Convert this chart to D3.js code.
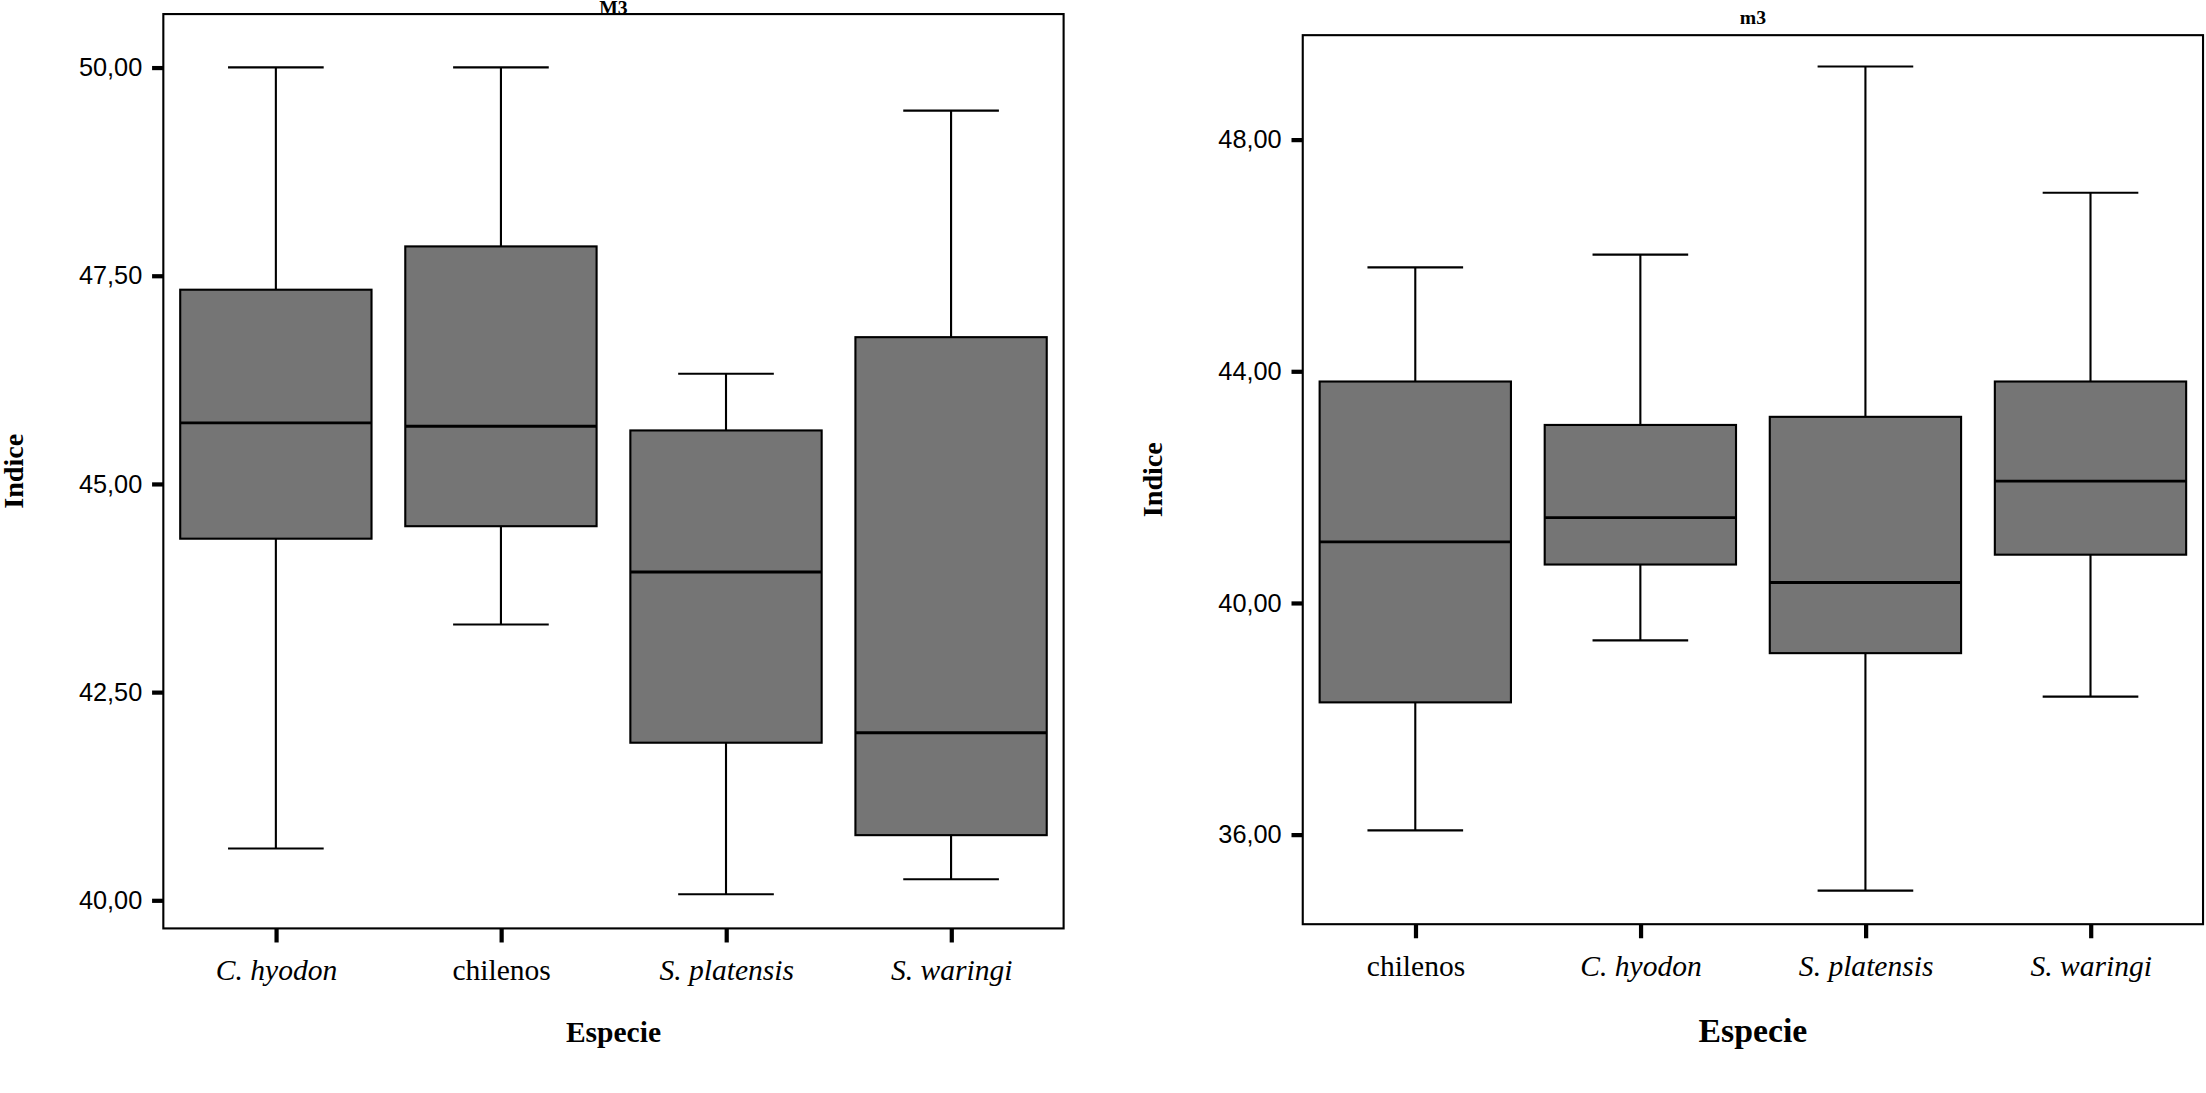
<!DOCTYPE html>
<html><head><meta charset="utf-8">
<script src="https://cdn.jsdelivr.net/npm/d3@7"></script>
<style>body{margin:0;background:#fff}</style>
</head><body>
<svg id="chart" width="2206" height="1093" viewBox="0 0 1568 777"></svg>
<script>
// left panel: M3
var catsM3 = ["C. hyodon", "chilenos", "S. platensis", "S. waringi"];
var minM3 = [40.62, 43.31, 40.07, 40.25];
var q1M3 = [44.34, 44.49, 41.89, 40.78];
var medM3 = [45.73, 45.69, 43.94, 42.01];
var q3M3 = [47.33, 47.85, 45.64, 46.76];
var maxM3 = [50.00, 50.00, 46.32, 49.48];
var ticksM3 = [40, 42.5, 45, 47.5, 50];

// right panel: m3
var catsm3 = ["chilenos", "C. hyodon", "S. platensis", "S. waringi"];
var minm3 = [36.07, 39.35, 35.03, 38.38];
var q1m3 = [38.28, 40.66, 39.13, 40.83];
var medm3 = [41.05, 41.47, 40.35, 42.10];
var q3m3 = [43.82, 43.07, 43.21, 43.82];
var maxm3 = [45.79, 46.01, 49.26, 47.08];
var ticksm3 = [36, 40, 44, 48];

var svg = d3.select("#chart");

function panel(o){
    var g = svg.append("g");
    var y = d3.scaleLinear().domain(o.ydom).range([o.y1, o.y0]);
    var x = d3.scalePoint().domain(o.cats).range([o.x0 + 80, o.x1 - 80]);
    var bw = 136;

    g.append("rect").attr("x", o.x0).attr("y", o.y0)
        .attr("width", o.x1 - o.x0).attr("height", o.y1 - o.y0)
        .attr("fill", "none").attr("stroke", "#000").attr("stroke-width", 1.5);

    var yAxis = g.append("g").attr("transform", "translate(" + o.x0 + ",0)")
        .call(d3.axisLeft(y).tickValues(o.ticks).tickSize(8).tickPadding(7)
            .tickFormat(function(d){ return d.toFixed(2).replace(".", ","); }));
    yAxis.select(".domain").remove();
    yAxis.selectAll("line").attr("stroke-width", 3);
    yAxis.selectAll("text").attr("font-family", "Liberation Sans, Arial").attr("font-size", 18).attr("fill", "#000");

    var xAxis = g.append("g").attr("transform", "translate(0," + o.y1 + ")")
        .call(d3.axisBottom(x).tickSize(10).tickPadding(12));
    xAxis.select(".domain").remove();
    xAxis.selectAll("line").attr("stroke-width", 3);
    xAxis.selectAll("text").attr("font-family", "Liberation Serif, Times New Roman")
        .attr("font-size", 21).attr("fill", "#000")
        .attr("font-style", function(d){ return d == "chilenos" ? "normal" : "italic"; });

    o.cats.forEach(function(c, i){
        var cx = x(c);
        g.append("line").attr("x1", cx).attr("x2", cx).attr("y1", y(o.max[i])).attr("y2", y(o.q3[i]))
            .attr("stroke", "#000").attr("stroke-width", 1.5);
        g.append("line").attr("x1", cx).attr("x2", cx).attr("y1", y(o.q1[i])).attr("y2", y(o.min[i]))
            .attr("stroke", "#000").attr("stroke-width", 1.5);
        [o.max[i], o.min[i]].forEach(function(v){
            g.append("line").attr("x1", cx - 34).attr("x2", cx + 34).attr("y1", y(v)).attr("y2", y(v))
                .attr("stroke", "#000").attr("stroke-width", 1.5);
        });
        g.append("rect").attr("x", cx - bw / 2).attr("y", y(o.q3[i]))
            .attr("width", bw).attr("height", y(o.q1[i]) - y(o.q3[i]))
            .attr("fill", "#757575").attr("stroke", "#000").attr("stroke-width", 1.5);
        g.append("line").attr("x1", cx - bw / 2).attr("x2", cx + bw / 2).attr("y1", y(o.med[i])).attr("y2", y(o.med[i]))
            .attr("stroke", "#000").attr("stroke-width", 2);
    });

    g.append("text").attr("x", (o.x0 + o.x1) / 2).attr("y", o.titleY).attr("text-anchor", "middle")
        .attr("font-family", "Liberation Serif").attr("font-weight", "bold").attr("font-size", 14).text(o.title);
    g.append("text").attr("x", (o.x0 + o.x1) / 2).attr("y", 741).attr("text-anchor", "middle")
        .attr("font-family", "Liberation Serif").attr("font-weight", "bold").attr("font-size", o.xls).text("Especie");
    g.append("text").attr("transform", "translate(" + (o.x0 - 100) + "," + ((o.y0 + o.y1) / 2) + ") rotate(-90)")
        .attr("text-anchor", "middle").attr("font-family", "Liberation Serif").attr("font-weight", "bold")
        .attr("font-size", 20).text("Indice");
}

panel({cats: catsM3, min: minM3, q1: q1M3, med: medM3, q3: q3M3, max: maxM3, ticks: ticksM3,
    x0: 116, x1: 756, y0: 10, y1: 660, ydom: [39.66, 50.64], title: "M3", titleY: 10, xls: 21});
panel({cats: catsm3, min: minm3, q1: q1m3, med: medm3, q3: q3m3, max: maxm3, ticks: ticksm3,
    x0: 926, x1: 1566, y0: 25, y1: 657, ydom: [34.45, 49.8], title: "m3", titleY: 17, xls: 24});
</script>
</body></html>
